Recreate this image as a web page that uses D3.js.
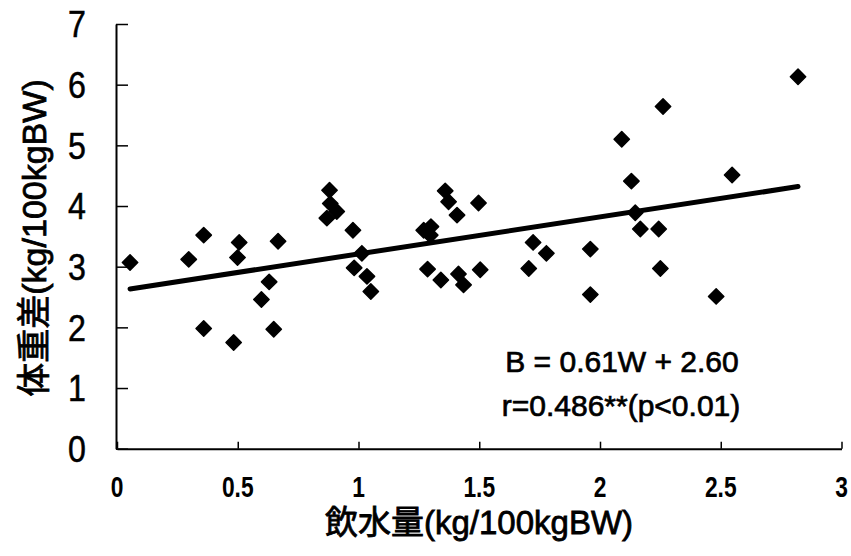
<!DOCTYPE html>
<html><head><meta charset="utf-8">
<script src="https://cdn.jsdelivr.net/npm/d3@7"></script>
<style>
body{margin:0;background:#fff;}
svg{display:block;}
</style></head>
<body><svg id="c" width="851" height="556"></svg>
<script>
// Data
const waterIntake = [0.054,0.297,0.359,0.359,0.483,0.506,0.499,0.598,0.63,0.649,0.667,
  0.88,0.883,0.91,0.869,0.977,1.014,0.982,1.035,1.051,
  1.359,1.373,1.497,1.408,1.27,1.30,1.297,1.286,1.341,1.414,1.435,1.504,
  2.13,2.146,2.167,2.243,1.723,1.778,1.705,1.960,1.960,2.25,2.82,2.261,2.09,2.547,2.481];
const weightDiff = [3.07,3.12,3.52,1.98,1.75,3.40,3.15,2.46,2.75,1.97,3.42,
  4.26,4.04,3.91,3.80,3.60,3.22,2.98,2.84,2.59,
  4.25,4.07,4.05,3.85,3.60,3.66,3.52,2.96,2.78,2.88,2.70,2.95,
  4.41,3.89,3.62,3.62,3.40,3.22,2.97,3.29,2.54,2.97,6.13,5.64,5.10,4.51,2.51];
const slope = 0.61, intercept = 2.60;
const xTicks = [0,0.5,1,1.5,2,2.5,3];
const xTickLabels = ["0","0.5","1","1.5","2","2.5","3"];
const yTicks = [0,1,2,3,4,5,6,7];
const xTitle = "飲水量(kg/100kgBW)";
const yTitle = "体重差(kg/100kgBW)";
const eqLine1 = "B = 0.61W + 2.60";
const eqLine2 = "r=0.486**(p<0.01)";

const svg = d3.select("#c");
const L = 117, R = 841.5, T = 24, B = 448.7;
const x = d3.scaleLinear().domain([0,3]).range([L,R]);
const y = d3.scaleLinear().domain([0,7]).range([B,T]);
const sans = "'Liberation Sans', Arial, 'Noto Sans CJK JP', sans-serif";

// Y axis (ticks inward)
const yAxis = svg.append("g").attr("transform",`translate(${L-1},0)`)
  .call(d3.axisRight(y).tickValues(yTicks).tickSize(12).tickSizeOuter(0).tickFormat(""));
yAxis.select(".domain").attr("stroke","#000").attr("stroke-width",2);
yAxis.selectAll(".tick line").attr("stroke","#000").attr("stroke-width",1.5);
svg.append("g").selectAll("text").data(yTicks).join("text")
  .attr("transform",d=>`translate(86,${y(d)}) scale(0.92,1.05)`).attr("dy","0.36em").attr("text-anchor","end")
  .attr("font-family",sans).attr("font-size",35).attr("fill","#000")
  .attr("stroke","#000").attr("stroke-width",0.5).text(d=>d);

// X axis (ticks inward)
const xAxis = svg.append("g").attr("transform",`translate(0,${B})`)
  .call(d3.axisTop(x).tickValues(xTicks).tickSize(7).tickSizeOuter(0).tickFormat(""));
xAxis.select(".domain").attr("stroke","#000").attr("stroke-width",2);
xAxis.selectAll(".tick line").attr("stroke","#000").attr("stroke-width",1.5);
svg.append("g").selectAll("text").data(xTicks).join("text")
  .attr("transform",d=>`translate(${x(d)},497) scale(0.76,1)`).attr("text-anchor","middle")
  .attr("font-family",sans).attr("font-weight","bold").attr("font-size",30).attr("fill","#000")
  .text((d,i)=>xTickLabels[i]);

// Regression line
const xr = d3.extent(waterIntake);
svg.append("line")
  .attr("x1",x(xr[0])).attr("y1",y(slope*xr[0]+intercept))
  .attr("x2",x(xr[1])).attr("y2",y(slope*xr[1]+intercept))
  .attr("stroke","#000").attr("stroke-width",5).attr("stroke-linecap","round");

// Points (diamonds)
const sym = d3.symbol().type(d3.symbolDiamond2 || d3.symbolSquare).size(150);
svg.append("g").selectAll("path").data(waterIntake).join("path")
  .attr("transform",(d,i)=>`translate(${x(d)},${y(weightDiff[i])}) rotate(${d3.symbolDiamond2?0:45})`)
  .attr("d",sym).attr("fill","#000").attr("stroke","#000").attr("stroke-width",1.5).attr("stroke-linejoin","round");

// Equation
svg.append("text").attr("x",622).attr("y",372).attr("text-anchor","middle")
  .attr("font-family",sans).attr("font-size",30).attr("fill","#000")
  .attr("stroke","#000").attr("stroke-width",0.7).text(eqLine1);
svg.append("text").attr("x",621).attr("y",416).attr("text-anchor","middle")
  .attr("font-family",sans).attr("font-size",30).attr("fill","#000")
  .attr("stroke","#000").attr("stroke-width",0.7).text(eqLine2);

// Titles
svg.append("text").attr("x",479).attr("y",534).attr("text-anchor","middle")
  .attr("font-family",sans).attr("font-size",33).attr("fill","#000")
  .attr("stroke","#000").attr("stroke-width",0.8).text(xTitle);
svg.append("text").attr("transform","translate(46,238) rotate(-90)").attr("text-anchor","middle")
  .attr("font-family",sans).attr("font-size",34).attr("fill","#000")
  .attr("stroke","#000").attr("stroke-width",0.8).text(yTitle);
</script></body></html>
